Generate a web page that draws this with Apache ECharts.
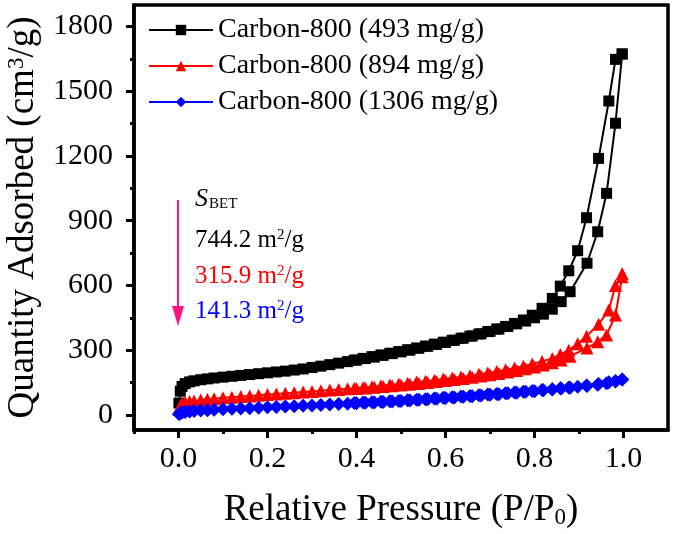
<!DOCTYPE html>
<html>
<head>
<meta charset="utf-8">
<script src="https://cdn.jsdelivr.net/npm/echarts@6/dist/echarts.min.js"></script>
<style>html,body{margin:0;padding:0;background:#fff;}#c{width:675px;height:534px;}</style>
</head>
<body>
<div id="c"></div>
<script>
// ---- data ----
const seriesNames = ['Carbon-800 (493 mg/g)', 'Carbon-800 (894 mg/g)', 'Carbon-800 (1306 mg/g)'];
const pAds = [0.001, 0.004, 0.008, 0.015, 0.025, 0.035, 0.05, 0.065, 0.08, 0.10, 0.12, 0.14, 0.16, 0.18, 0.20, 0.22, 0.24, 0.26, 0.28, 0.30, 0.32, 0.34, 0.36, 0.38, 0.40, 0.42, 0.44, 0.46, 0.48, 0.50, 0.52, 0.54, 0.56, 0.58, 0.60, 0.62, 0.64, 0.66, 0.68, 0.70, 0.72, 0.74, 0.76, 0.78, 0.80, 0.82, 0.84, 0.86, 0.88, 0.918, 0.942, 0.962, 0.982, 0.997];
const pDes = [0.997, 0.982, 0.967, 0.944, 0.917, 0.897, 0.877, 0.858, 0.840, 0.817, 0.795, 0.775, 0.755, 0.735, 0.715, 0.695, 0.675, 0.655, 0.635, 0.615, 0.595, 0.575, 0.555, 0.535, 0.515, 0.495, 0.475, 0.455, 0.435, 0.415, 0.395];
const blackAds = [55, 110, 132, 145, 153, 158, 163, 167, 171, 175, 179, 183, 187, 191, 195, 199, 203, 208, 213, 220, 226, 233, 240, 247, 254, 261, 268, 276, 284, 292, 300, 309, 318, 327, 336, 346, 356, 366, 376, 387, 398, 410, 422, 435, 450, 467, 490, 525, 571, 703, 849, 1027, 1352, 1673];
const blackDes = [1673, 1648, 1455, 1189, 914, 761, 668, 597, 540, 494, 462, 440, 424, 410, 398, 386, 375, 365, 355, 346, 337, 328, 319, 310, 302, 294, 286, 278, 270, 262, 254];
const redAds = [25, 42, 52, 58, 62, 65, 69, 72, 75, 79, 82, 85, 88, 91, 94, 97, 100, 103, 106, 109, 112, 115, 118, 121, 122, 125, 128, 132, 135, 139, 142, 146, 150, 155, 160, 164, 169, 174, 180, 186, 192, 199, 206, 214, 222, 231, 242, 255, 272, 310, 339, 370, 463, 640];
const redDes = [656, 600, 486, 420, 365, 330, 300, 280, 262, 248, 236, 226, 217, 209, 201, 194, 188, 182, 176, 171, 166, 161, 156, 152, 147, 143, 139, 135, 131, 127, 123];
const blueAds = [4, 8, 11, 14, 16, 18, 20, 22, 24, 26, 28, 30, 31, 33, 35, 37, 39, 40, 42, 44, 46, 48, 50, 52, 54, 56, 58, 60, 62, 65, 67, 70, 72, 75, 78, 81, 84, 87, 90, 93, 96, 100, 103, 107, 110, 114, 118, 122, 126, 134, 140, 147, 155, 164];
const blueDes = [164, 157, 151, 143, 136, 131, 127, 123, 119, 115, 111, 107, 104, 100, 97, 94, 91, 88, 85, 82, 79, 76, 73, 70, 68, 65, 63, 61, 59, 57, 55];
const xMajorTicks = [0, 0.2, 0.4, 0.6, 0.8, 1.0];
const xMinorTicks = [-0.1, 0.1, 0.3, 0.5, 0.7, 0.9];
const yMajorTicks = [0, 300, 600, 900, 1200, 1500, 1800];
const yMinorTicks = [150, 450, 750, 1050, 1350, 1650];
const bet = ['744.2', '315.9', '141.3'];

// ---- chart ----
const FONT = 'Liberation Serif';
const colors = ['#000000', '#ff0000', '#0000ff'];
const symbols = ['rect', 'triangle', 'diamond'];
const sizes = [11, 13, 14];
const branches = [[blackAds, blackDes], [redAds, redDes], [blueAds, blueDes]];

function pairs(ps, qs) { return qs.map((q, i) => [ps[i], q]); }

const series = branches.map((b, k) => ({
  name: seriesNames[k],
  type: 'line',
  xAxisIndex: 0, yAxisIndex: 0,
  data: pairs(pAds, b[0]).concat(pairs(pDes, b[1])),
  symbol: symbols[k],
  symbolSize: sizes[k],
  showAllSymbol: true,
  lineStyle: { color: colors[k], width: 2 },
  itemStyle: { color: colors[k], borderWidth: 0 },
  emphasis: { disabled: true },
  z: 2 + k
}));

const option = {
  backgroundColor: '#fff',
  animation: false,
  grid: { left: 134, right: 7, top: 5, bottom: 104, show: true, borderColor: '#000', borderWidth: 3.5,
          backgroundColor: 'transparent', containLabel: false, outerBoundsMode: 'none' },
  legend: {
    orient: 'vertical', left: 143, top: 11, itemGap: 8, itemWidth: 64, itemHeight: 13,
    data: seriesNames,
    textStyle: { fontSize: 28, color: '#000', fontFamily: 'Liberation Serif' }
  },
  xAxis: [
    {
      type: 'value', min: -0.1, max: 1.1, position: 'bottom',
      axisLine: { show: true, onZero: false, lineStyle: { color: '#000', width: 3.5 } },
      axisTick: { show: true, inside: false, length: 8, lineStyle: { color: '#000', width: 3 }, customValues: xMajorTicks },
      axisLabel: { customValues: xMajorTicks, formatter: v => v.toFixed(1), fontSize: 30, margin: 14, color: '#000', fontFamily: FONT },
      splitLine: { show: false },
      name: '{n|Relative Pressure (P/P}{sub|0}{n|)}',
      nameLocation: 'middle', nameGap: 62,
      nameTextStyle: { fontSize: 37, color: '#000', fontFamily: FONT,
        rich: { n: { fontSize: 37, color: '#000', fontFamily: FONT }, sub: { fontSize: 23, color: '#000', fontFamily: FONT, verticalAlign: 'bottom', lineHeight: 30, padding: [12, 0, 0, 0] } } }
    },
    {
      type: 'value', min: -0.1, max: 1.1, position: 'bottom',
      axisLine: { show: false, onZero: false },
      axisTick: { show: true, inside: false, length: 4, lineStyle: { color: '#000', width: 3 }, customValues: xMinorTicks },
      axisLabel: { show: false }, splitLine: { show: false }
    }
  ],
  yAxis: [
    {
      type: 'value', min: -70, max: 1900, position: 'left',
      axisLine: { show: true, onZero: false, lineStyle: { color: '#000', width: 3.5 } },
      axisTick: { show: true, inside: false, length: 8, lineStyle: { color: '#000', width: 3 }, customValues: yMajorTicks },
      axisLabel: { customValues: yMajorTicks, formatter: v => String(v), fontSize: 30, margin: 21, color: '#000', fontFamily: FONT },
      splitLine: { show: false },
      name: '{n|Quantity Adsorbed (cm}{sup|3}{n|/g)}',
      nameLocation: 'middle', nameGap: 92,
      nameTextStyle: { fontSize: 37, color: '#000', fontFamily: FONT,
        rich: { n: { fontSize: 37, color: '#000', fontFamily: FONT }, sup: { fontSize: 23, color: '#000', fontFamily: FONT, verticalAlign: 'top' } } }
    },
    {
      type: 'value', min: -70, max: 1900, position: 'left',
      axisLine: { show: false, onZero: false },
      axisTick: { show: true, inside: false, length: 4, lineStyle: { color: '#000', width: 3 }, customValues: yMinorTicks },
      axisLabel: { show: false }, splitLine: { show: false }
    }
  ],
  graphic: [
    { type: 'line', shape: { x1: 178, y1: 200, x2: 178, y2: 312 }, style: { stroke: '#ff1485', lineWidth: 2 }, z: 10 },
    { type: 'polygon', shape: { points: [[172, 306], [184, 306], [178, 326]] }, style: { fill: '#ff1485' }, z: 10 },
    { type: 'text', left: 195, top: 186, z: 10,
      style: { text: '{s|S}{b|BET}', rich: { s: { fontSize: 26, fontStyle: 'italic', fontFamily: FONT, fill: '#000', verticalAlign: 'top' }, b: { fontSize: 15, fontFamily: FONT, fill: '#000', verticalAlign: 'bottom', padding: [0, 0, 0, 1] } } } },
    ...bet.map((v, k) => ({
      type: 'text', left: 195, top: 228 + k * 35.5, z: 10,
      style: { text: '{n|' + v + ' m}{sup|2}{n|/g}', rich: {
        n: { fontSize: 25, fontFamily: FONT, fill: colors[k] },
        sup: { fontSize: 15, fontFamily: FONT, fill: colors[k], verticalAlign: 'top' } } }
    }))
  ],
  series: series
};

const chart = echarts.init(document.getElementById('c'), null, { renderer: 'canvas' });
chart.setOption(option);
</script>
</body>
</html>
